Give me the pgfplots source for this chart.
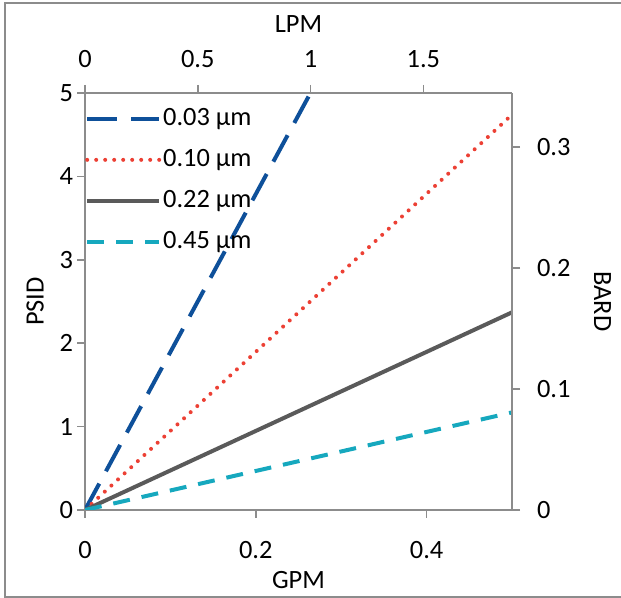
\documentclass[border=0pt]{standalone}
\usepackage{pgfplots}
\pgfplotsset{compat=1.18}
\usepackage{fontspec}
\setmainfont{Carlito}
\definecolor{cblue}{RGB}{14,80,154}
\definecolor{cred}{RGB}{236,64,52}
\definecolor{cgray}{RGB}{90,90,90}
\definecolor{cteal}{RGB}{22,168,190}
\definecolor{axgray}{RGB}{140,140,140}
\pgfplotsset{
  chartaxis/.style={
    at={(85bp,88bp)}, anchor=south west,
    scale only axis, width=427bp, height=417bp,
    axis line style={axgray, line width=1.5bp},
    tick style={axgray, line width=1.5bp},
    major tick length=8bp, tick align=outside,
    /pgf/number format/assume math mode=true,
    tick label style={font=\fontsize{26.5}{31}\selectfont},
    label style={font=\fontsize{26.5}{31}\selectfont},
  }
}
\begin{document}
\fontsize{26.5}{31}\selectfont
\begin{tikzpicture}
\useasboundingbox (0,0) rectangle (621bp,598bp);
\draw[axgray, line width=1.5bp] (630bp,1bp) -- (5bp,1bp) -- (5bp,595bp) -- (630bp,595bp);
\begin{axis}[chartaxis,
  xmin=0, xmax=0.5, ymin=0, ymax=5,
  axis x line*=bottom, axis y line*=left,
  xtick={0,0.2,0.4}, ytick={0,1,2,3,4,5},
  xlabel={GPM}, ylabel={PSID},
  xticklabel style={yshift=-14bp},
  yticklabel style={xshift=5bp},
  xlabel style={yshift=5bp},
  ylabel style={yshift=-2bp},
  legend style={at={(0,1)}, anchor=north west, draw=none, fill=none,
    inner xsep=0bp, inner ysep=13bp, row sep=16bp,
    font=\fontsize{26.5}{31}\selectfont,
    nodes={inner xsep=2bp, inner ysep=2bp}},
  legend cell align=left,
  legend image code/.code={\draw[#1] (0bp,0bp) -- (72bp,0bp);},
]
\addplot[cblue, line width=4bp, dash pattern=on 30bp off 14bp] coordinates {(0,0) (0.264,5)};
\addlegendentry{0.03 µm}
\addplot[cred, line width=4bp, line cap=round, dash pattern=on 0bp off 9bp] coordinates {(0,0) (0.5,4.74)};
\addlegendentry{0.10 µm}
\addplot[cgray, line width=4bp] coordinates {(0,0) (0.5,2.37)};
\addlegendentry{0.22 µm}
\addplot[cteal, line width=4bp, dash pattern=on 17bp off 12bp] coordinates {(0,0) (0.5,1.17)};
\addlegendentry{0.45 µm}
\end{axis}
\begin{axis}[chartaxis,
  xmin=0, xmax=1.8927, ymin=0, ymax=0.34474,
  axis x line*=top, axis y line*=right,
  xtick={0,0.5,1,1.5}, ytick={0,0.1,0.2,0.3},
  xlabel={LPM}, ylabel={BARD},
  xticklabel style={yshift=8bp},
  yticklabel style={xshift=8bp},
  ylabel style={rotate=180, yshift=6bp},
]
\end{axis}
\end{tikzpicture}
\end{document}
